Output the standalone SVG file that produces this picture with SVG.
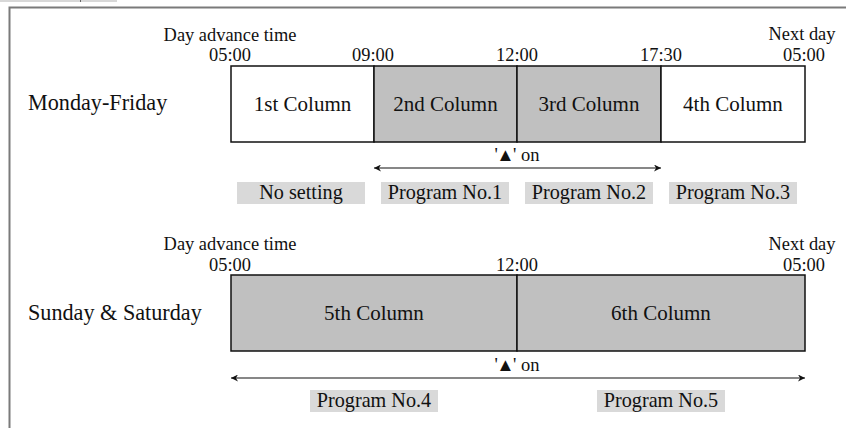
<svg xmlns="http://www.w3.org/2000/svg" width="846" height="428" viewBox="0 0 846 428">
<defs>
<style>
text{font-family:"Liberation Serif","Times New Roman",serif;fill:#111}
.sm{font-size:18.4px}
.col{font-size:21px;text-anchor:middle}
.row{font-size:22.2px}
.prog{font-size:20.2px;text-anchor:middle}
.mid{text-anchor:middle}
.on{font-size:18.5px}
.box{stroke:#111;stroke-width:1.5}
.white{fill:#fff}
.gray{fill:#c0c0c0}
.lbl{fill:#d9d9d9}
.conn{stroke:#111;stroke-width:1.2;fill:none}
</style>
<marker id="ah" viewBox="0 0 10 10" refX="10" refY="5" markerWidth="10" markerHeight="7" markerUnits="userSpaceOnUse" orient="auto-start-reverse">
<path d="M0,0 L10,5 L0,10 L3,5 Z" fill="#111"/>
</marker>
</defs>
<rect width="846" height="428" fill="#fff"/>
<rect x="0" y="0" width="117" height="2" fill="#d8d8d8"/>
<rect x="80" y="0" width="1" height="2" fill="#666"/>
<path d="M9.5,428 V7.5 H846" stroke="#7a7a7a" stroke-width="2" fill="none"/>

<g id="weekday-times">
<text class="sm mid" x="230" y="41">Day advance time</text>
<text class="sm mid" x="230" y="61">05:00</text>
<text class="sm mid" x="373" y="61">09:00</text>
<text class="sm mid" x="517" y="61">12:00</text>
<text class="sm mid" x="661" y="61">17:30</text>
<text class="sm mid" x="802" y="40">Next day</text>
<text class="sm mid" x="804" y="61">05:00</text>
</g>
<text id="weekday-label" class="row" x="28" y="110">Monday-Friday</text>
<g id="col1"><rect class="box white" x="231" y="66" width="143" height="76"/><text class="col" x="302.5" y="111">1st Column</text></g>
<g id="col2"><rect class="box gray" x="374" y="66" width="143" height="76"/><text class="col" x="445.5" y="111">2nd Column</text></g>
<g id="col3"><rect class="box gray" x="517" y="66" width="144" height="76"/><text class="col" x="589" y="111">3rd Column</text></g>
<g id="col4"><rect class="box white" x="661" y="66" width="144" height="76"/><text class="col" x="733" y="111">4th Column</text></g>
<text id="on1" class="on mid" x="517" y="161">'<tspan dx="-1.5">▲</tspan><tspan dx="-1.5">' on</tspan></text>
<g id="p0"><rect class="lbl" x="237" y="182" width="128" height="22"/><text class="prog" x="301" y="199">No setting</text></g>
<g id="p1"><rect class="lbl" x="381" y="182" width="128" height="22"/><text class="prog" x="445" y="199">Program No.1</text></g>
<g id="p2"><rect class="lbl" x="525" y="182" width="128" height="22"/><text class="prog" x="589" y="199">Program No.2</text></g>
<g id="p3"><rect class="lbl" x="669" y="182" width="128" height="22"/><text class="prog" x="733" y="199">Program No.3</text></g>

<g id="weekend-times">
<text class="sm mid" x="230" y="250">Day advance time</text>
<text class="sm mid" x="230" y="271">05:00</text>
<text class="sm mid" x="517" y="271">12:00</text>
<text class="sm mid" x="802" y="250">Next day</text>
<text class="sm mid" x="804" y="271">05:00</text>
</g>
<text id="weekend-label" class="row" x="28" y="320">Sunday &amp; Saturday</text>
<g id="col5"><rect class="box gray" x="231" y="275" width="286" height="76"/><text class="col" x="374" y="320">5th Column</text></g>
<g id="col6"><rect class="box gray" x="517" y="275" width="288" height="76"/><text class="col" x="661" y="320">6th Column</text></g>
<text id="on2" class="on mid" x="517" y="371">'<tspan dx="-1.5">▲</tspan><tspan dx="-1.5">' on</tspan></text>
<g id="p4"><rect class="lbl" x="310" y="390" width="128" height="22"/><text class="prog" x="374" y="407">Program No.4</text></g>
<g id="p5"><rect class="lbl" x="597" y="390" width="128" height="22"/><text class="prog" x="661" y="407">Program No.5</text></g>

<g id="connectors">
<line class="conn" x1="374" y1="168" x2="661" y2="168" marker-start="url(#ah)" marker-end="url(#ah)"/>
<line class="conn" x1="231" y1="378" x2="805" y2="378" marker-start="url(#ah)" marker-end="url(#ah)"/>
</g>
</svg>
